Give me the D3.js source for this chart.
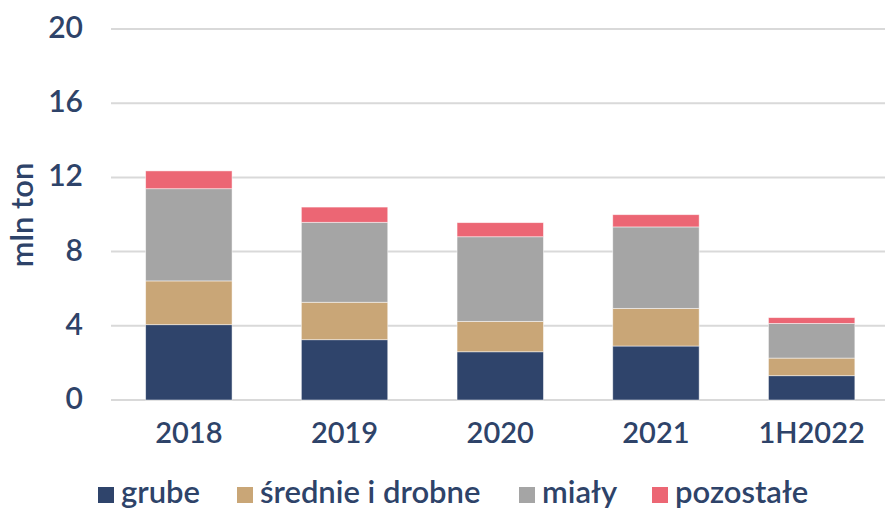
<!DOCTYPE html>
<html>
<head>
<meta charset="utf-8">
<script src="https://cdn.jsdelivr.net/npm/d3@7"></script>
<style>
  body { margin: 0; background: #fff; }
  text { font-family: Lato, "Open Sans", sans-serif; fill: #2e4369; }
</style>
</head>
<body>
<svg id="chart" width="885" height="509"></svg>
<script>
// data (mln ton)
let years = ["2018", "2019", "2020", "2021", "1H2022"]
let grube = [4.06, 3.25, 2.60, 2.91, 1.31]
let srednie = [2.36, 2.02, 1.64, 2.03, 0.95]
let mialy = [4.97, 4.31, 4.56, 4.39, 1.87]
let pozostale = [0.96, 0.82, 0.76, 0.66, 0.31]
let seriesNames = ["grube", "średnie i drobne", "miały", "pozostałe"]
let colors = ["#2f446b", "#c9a677", "#a5a5a5", "#ec6674"]
let yTicks = [0, 4, 8, 12, 16, 20]

let rows = years.map(function (y, i) {
    return { year: y, grube: grube[i], srednie: srednie[i], mialy: mialy[i], pozostale: pozostale[i] }
})
let keys = ["grube", "srednie", "mialy", "pozostale"]

let svg = d3.select("#chart")

let x = d3.scaleBand()
    .domain(years)
    .range([111, 889.5])
    .paddingInner(0.445)
    .paddingOuter(0.2225)

let y = d3.scaleLinear()
    .domain([0, 20])
    .range([400, 29])

// gridlines
svg.append("g")
    .selectAll("line")
    .data(yTicks)
    .join("line")
    .attr("x1", 111)
    .attr("x2", 885)
    .attr("y1", d => y(d))
    .attr("y2", d => y(d))
    .attr("stroke", "#d9d9d9")
    .attr("stroke-width", 2)

// y tick labels
svg.append("g")
    .selectAll("text")
    .data(yTicks)
    .join("text")
    .attr("x", 83)
    .attr("y", d => y(d))
    .attr("dy", "0.3em")
    .attr("text-anchor", "end")
    .style("font-size", "30px")
    .style("font-weight", 600)
    .text(d => d)

// y axis title
svg.append("text")
    .attr("transform", "translate(33,215) rotate(-90)")
    .attr("text-anchor", "middle")
    .style("font-size", "31px")
    .style("font-weight", 600)
    .text("mln ton")

// stacked bars
let stacked = d3.stack().keys(keys)(rows)

svg.append("g")
    .selectAll("g")
    .data(stacked)
    .join("g")
    .attr("fill", (d, i) => colors[i])
    .selectAll("rect")
    .data(d => d)
    .join("rect")
    .attr("x", d => x(d.data.year))
    .attr("width", x.bandwidth())
    .attr("y", d => y(d[1]))
    .attr("height", d => y(d[0]) - y(d[1]))
    .attr("stroke", "#ffffff")
    .attr("stroke-opacity", 0.6)
    .attr("stroke-width", 0.8)

// x labels
svg.append("g")
    .selectAll("text")
    .data(years)
    .join("text")
    .attr("x", d => x(d) + x.bandwidth() / 2)
    .attr("y", 443)
    .attr("text-anchor", "middle")
    .style("font-size", "29px")
    .style("font-weight", 600)
    .text(d => d)

// legend
let legendX = [98, 237, 519, 652]
let legend = svg.append("g")
    .selectAll("g")
    .data(seriesNames)
    .join("g")
    .attr("transform", (d, i) => "translate(" + legendX[i] + ",0)")

legend.append("rect")
    .attr("x", 0)
    .attr("y", 487)
    .attr("width", 16)
    .attr("height", 16)
    .attr("fill", (d, i) => colors[i])

legend.append("text")
    .attr("x", 23)
    .attr("y", 503)
    .style("font-size", "31px")
    .style("font-weight", 600)
    .text(d => d)
</script>
</body>
</html>
